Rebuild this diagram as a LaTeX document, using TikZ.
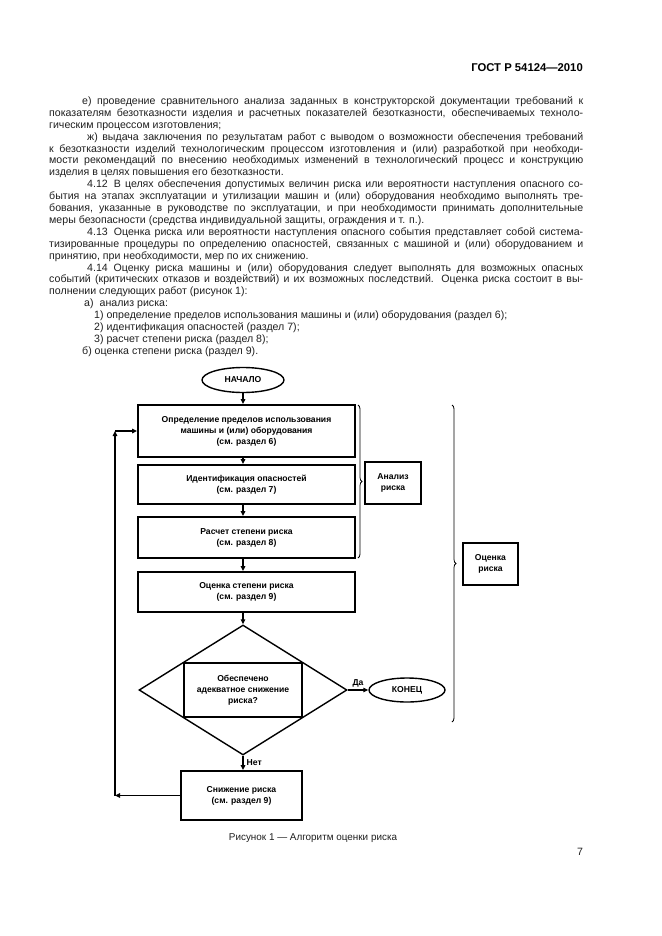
\documentclass[tikz,border=0pt]{standalone}
\usepackage{fontspec}
\setmainfont{Liberation Sans}
\usetikzlibrary{arrows.meta,shapes.geometric,decorations.pathreplacing}
\newlength\textw
\setlength\textw{534pt}
\newcommand\jl[1]{\hbox to \textw{#1}}
\newcommand\lastln[1]{\hbox{#1}}
\newcommand\dfont{\bfseries\fontsize{8.6}{11}\selectfont}
\begin{document}
\begin{tikzpicture}[x=1pt,y=-1pt,
  box/.style={draw, line width=1.8pt, align=center, font=\dfont, inner sep=0pt},
  oval/.style={draw, ellipse, line width=1.4pt, font=\dfont, inner sep=0pt},
  arr/.style={line width=1.3pt, -{Triangle[length=5pt,width=4.5pt]}},
  brc/.style={line width=0.8pt, decorate, decoration={brace, amplitude=4pt, aspect=0.5}},
  lbl/.style={font=\dfont, inner sep=1pt}]
\useasboundingbox (0,0) rectangle (661,936);
% header
\node[anchor=base east, inner sep=0pt, font=\bfseries\fontsize{11.3}{13}\selectfont] (hdr) at (583,72) {ГОСТ Р 54124—2010};
% body text
\node[anchor=base west, inner sep=0pt, text=black!88] (body) at (49,104.5) {\fontsize{10.6}{11.9}\selectfont\vtop{\lineskiplimit=-20pt
\jl{\hskip 33pt е) проведение сравнительного анализа заданных в конструкторской документации требований к}
\jl{показателям безотказности изделия и расчетных показателей безотказности, обеспечиваемых техноло-}
\lastln{гическим процессом изготовления;}
\jl{\hskip 38pt ж) выдача заключения по результатам работ с выводом о возможности обеспечения требований}
\jl{к безотказности изделий технологическим процессом изготовления и (или) разработкой при необходи-}
\jl{мости рекомендаций по внесению необходимых изменений в технологический процесс и конструкцию}
\lastln{изделия в целях повышения его безотказности.}
\jl{\hskip 38pt 4.12\hskip 6pt В целях обеспечения допустимых величин риска или вероятности наступления опасного со-}
\jl{бытия на этапах эксплуатации и утилизации машин и (или) оборудования необходимо выполнять тре-}
\jl{бования, указанные в руководстве по эксплуатации, и при необходимости принимать дополнительные}
\lastln{меры безопасности (средства индивидуальной защиты, ограждения и т. п.).}
\jl{\hskip 38pt 4.13\hskip 6pt Оценка риска или вероятности наступления опасного события представляет собой система-}
\jl{тизированные процедуры по определению опасностей, связанных с машиной и (или) оборудованием и}
\lastln{принятию, при необходимости, мер по их снижению.}
\jl{\hskip 38pt 4.14 Оценку риска машины и (или) оборудования следует выполнять для возможных опасных}
\jl{событий (критических отказов и воздействий) и их возможных последствий. Оценка риска состоит в вы-}
\lastln{полнении следующих работ (рисунок 1):}
\lastln{\hskip 35pt а)\hskip 6pt анализ риска:}
\lastln{\hskip 45pt 1) определение пределов использования машины и (или) оборудования (раздел 6);}
\lastln{\hskip 45pt 2) идентификация опасностей (раздел 7);}
\lastln{\hskip 45pt 3) расчет степени риска (раздел 8);}
\lastln{\hskip 33pt б) оценка степени риска (раздел 9).}
}};
% diagram
\node[oval, minimum width=82pt, minimum height=25pt] (start) at (243,380) {НАЧАЛО};
\node[box, minimum width=217pt, minimum height=52pt] (b1) at (246.5,431) {Определение пределов использования\\машины и (или) оборудования\\(см. раздел 6)};
\node[box, minimum width=217pt, minimum height=39pt] (b2) at (246.5,484.5) {Идентификация опасностей\\(см. раздел 7)};
\node[box, minimum width=217pt, minimum height=41pt] (b3) at (246.5,537.5) {Расчет степени риска\\(см. раздел 8)};
\node[box, minimum width=217pt, minimum height=40pt] (b4) at (246.5,592) {Оценка степени риска\\(см. раздел 9)};
\node[draw, diamond, line width=1.4pt, minimum width=208pt, minimum height=130pt, inner sep=0pt] (dec) at (243,690) {};
\node[box, minimum width=118pt, minimum height=54pt] (q) at (243,690) {Обеспечено\\адекватное снижение\\риска?};
\node[oval, minimum width=76pt, minimum height=24pt] (end) at (407,690) {КОНЕЦ};
\node[box, minimum width=121pt, minimum height=49pt] (b5) at (241.5,795.5) {Снижение риска\\(см. раздел 9)};
\node[box, minimum width=56pt, minimum height=42pt] (an) at (393,483) {Анализ\\риска};
\node[box, minimum width=55pt, minimum height=42pt] (oc) at (490.5,564) {Оценка\\риска};
% connectors
\draw[arr] (start.south) -- (start.south |- b1.north);
\draw[arr] (b1.south -| start.south) -- (start.south |- b2.north);
\draw[arr] (b2.south -| start.south) -- (start.south |- b3.north);
\draw[arr] (b3.south -| start.south) -- (start.south |- b4.north);
\draw[arr] (b4.south -| dec.north) -- (dec.north);
\draw[arr] (dec.east) -- (end.west) node[lbl, midway, above=1pt] (yes) {Да};
\draw[arr] (dec.south) -- (dec.south |- b5.north) node[lbl, midway, right=2pt] (no) {Нет};
\coordinate (c1) at (115,795.5);
\coordinate (c2) at (115,431);
\draw[arr] (b5.west) -- (c1);
\draw[arr] (c1) -- (c2);
\draw[arr] (c2) -- (b1.west);
% braces
\coordinate (br1a) at (358,405);
\coordinate (br1b) at (358,558);
\coordinate (br2a) at (452,405);
\coordinate (br2b) at (452,722);
\draw[brc] (br1a) -- (br1b);
\draw[brc] (br2a) -- (br2b);
% caption and page number
\node[font=\fontsize{9.9}{12}\selectfont, text=black!88] (cap) at (313,838) {Рисунок 1 — Алгоритм оценки риска};
\node[font=\fontsize{10.6}{12}\selectfont, text=black!88] (pg) at (580,852) {7};
\end{tikzpicture}
\end{document}
